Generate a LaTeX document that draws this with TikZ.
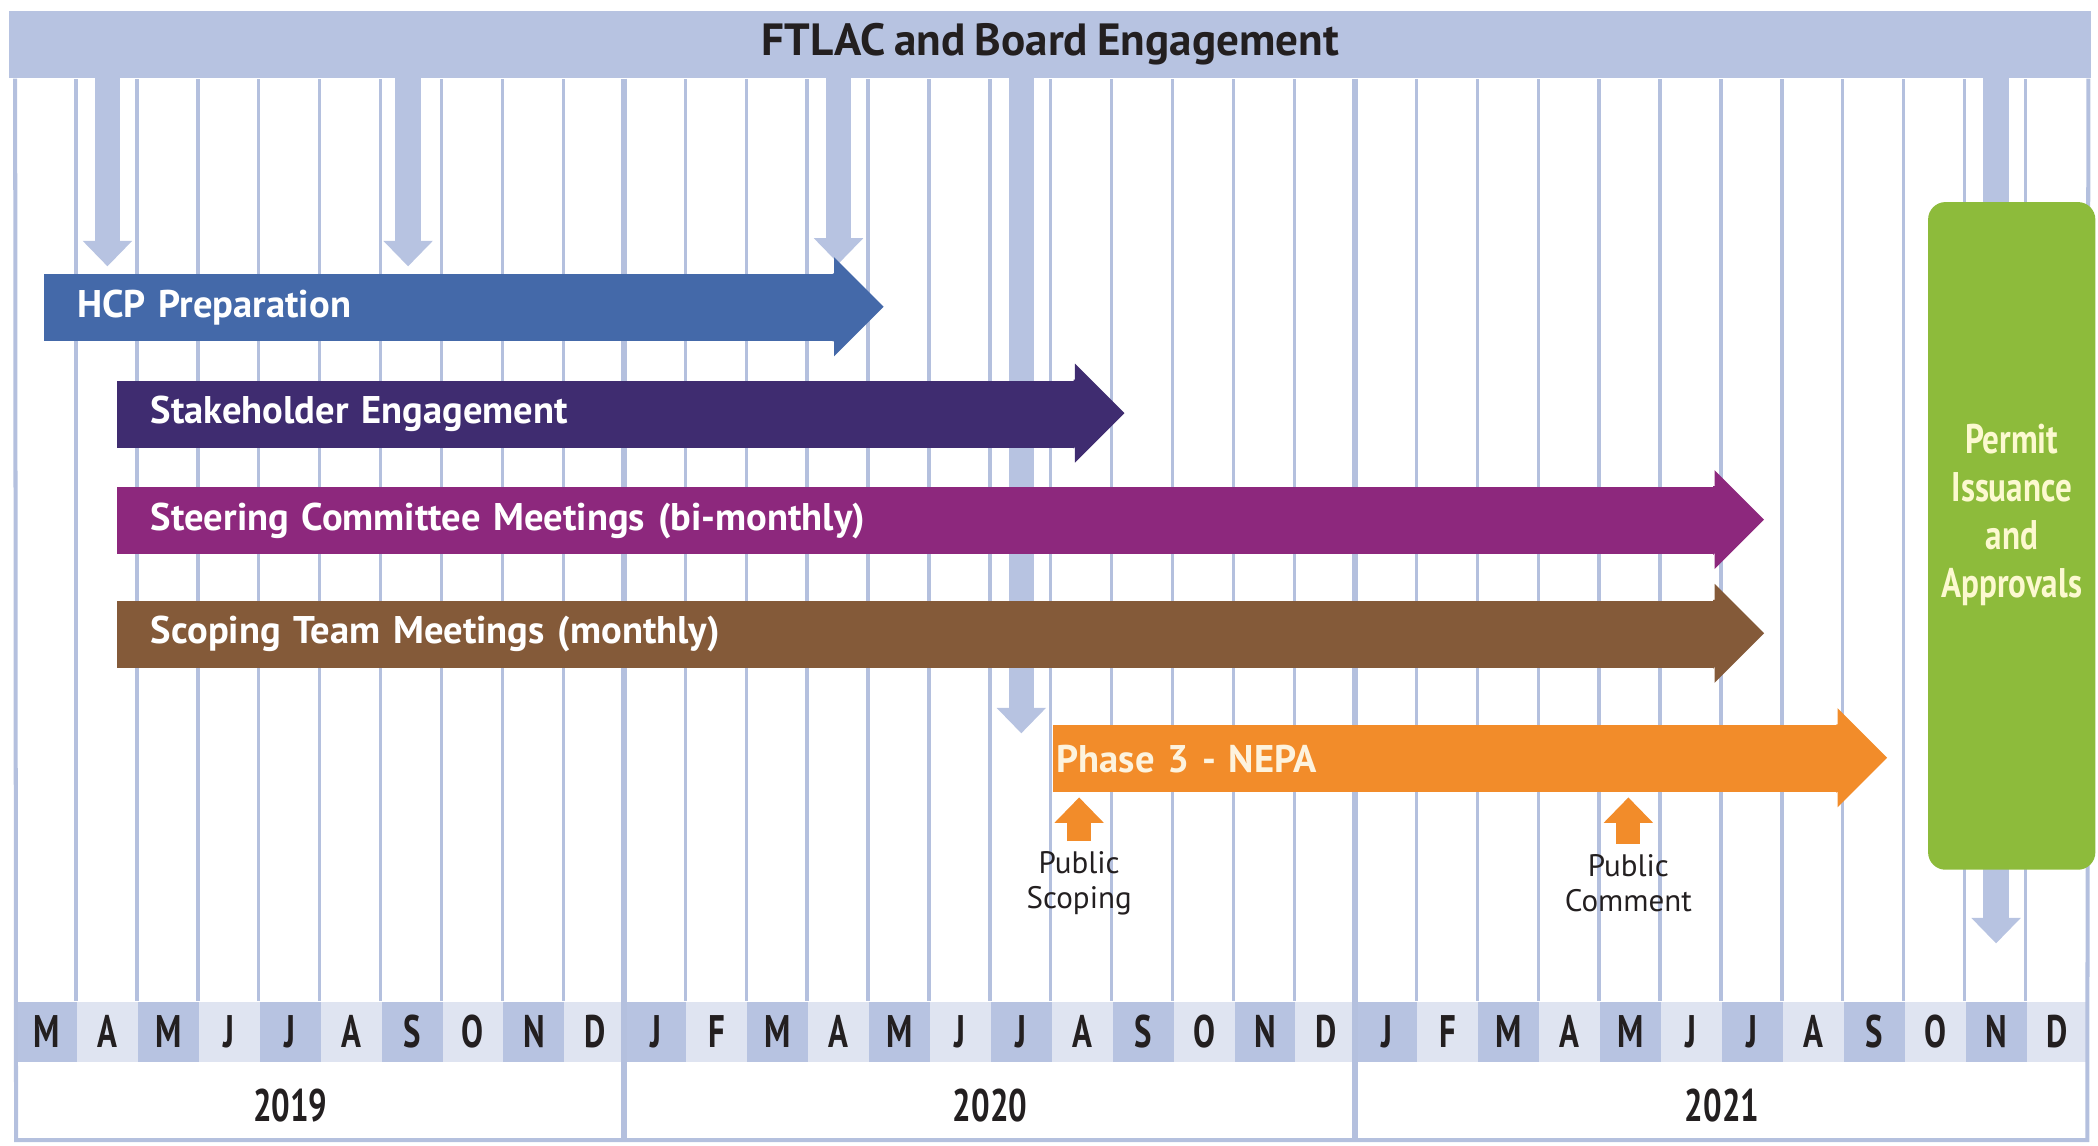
\documentclass[tikz,border=0pt]{standalone}
\usepackage{fontspec}
\setmainfont{PT Sans}[WordSpace=0.8]
\newfontfamily\narrowfont[FakeStretch=0.72]{PT Sans}
\newfontfamily\permitfont[FakeStretch=0.8]{PT Sans}
\usetikzlibrary{arrows.meta}

\definecolor{HeaderColor}{rgb}{0.718,0.765,0.882}
\definecolor{GridColor}{rgb}{0.706,0.753,0.871}
\definecolor{MonthDark}{rgb}{0.718,0.765,0.882}
\definecolor{MonthLight}{rgb}{0.875,0.894,0.945}
\definecolor{TextColor}{rgb}{0.137,0.122,0.125}
\definecolor{HcpColor}{rgb}{0.267,0.412,0.663}
\definecolor{StakeColor}{rgb}{0.247,0.173,0.439}
\definecolor{SteerColor}{rgb}{0.553,0.157,0.490}
\definecolor{ScopeColor}{rgb}{0.518,0.353,0.224}
\definecolor{NepaColor}{rgb}{0.949,0.549,0.165}
\definecolor{NepaText}{rgb}{0.992,0.953,0.871}
\definecolor{PermitColor}{rgb}{0.553,0.733,0.231}
\definecolor{PermitText}{rgb}{0.988,0.976,0.816}

\tikzstyle{grid-line}=[draw=GridColor, line width=0.025cm]
\tikzstyle{year-line}=[draw=GridColor, line width=0.045cm]
\tikzstyle{frame-line}=[draw=GridColor, line width=0.03cm]
\tikzstyle{header-band}=[rectangle,
                         fill=HeaderColor,
                         inner sep=0pt,
                         minimum width=15.56cm,
                         minimum height=0.50cm,
                         text=TextColor,
                         font=\bfseries\fontsize{9.6}{11}\selectfont]
\tikzstyle{month-base}=[rectangle,
                        inner sep=0pt,
                        minimum width=0.4553cm,
                        minimum height=0.45cm,
                        text=TextColor,
                        font=\narrowfont\bfseries\fontsize{9.7}{10}\selectfont]
\tikzstyle{month-dark}=[month-base, fill=MonthDark]
\tikzstyle{month-light}=[month-base, fill=MonthLight]
\tikzstyle{year-label}=[inner sep=0pt, text=TextColor,
                        font=\narrowfont\bfseries\fontsize{9.7}{10}\selectfont]
\tikzstyle{engage-arrow}=[draw=HeaderColor, line width=0.19cm, shorten <=-0.02cm,
                          -{Triangle[width=0.37cm, length=0.19cm, line width=0pt]}]
\tikzstyle{gantt-bar}=[rectangle,
                       anchor=west,
                       inner xsep=0.25cm,
                       inner ysep=0pt,
                       minimum height=0.50cm,
                       align=left,
                       text=white,
                       font=\bfseries\fontsize{8.2}{9.5}\selectfont]
\tikzstyle{permit-box}=[rectangle,
                        rounded corners=0.13cm,
                        fill=PermitColor,
                        minimum width=1.25cm,
                        minimum height=4.99cm]
\tikzstyle{permit-label}=[inner sep=0pt, align=center, text=PermitText,
                          font=\permitfont\bfseries\fontsize{8.8}{10.2}\selectfont]
\tikzstyle{public-arrow}=[draw=NepaColor, line width=0.18cm, shorten <=0.07cm,
                          -{Triangle[width=0.37cm, length=0.19cm, line width=0pt]}]
\tikzstyle{public-label}=[inner sep=0pt, align=center, text=TextColor,
                          font=\fontsize{6.6}{7.4}\selectfont]

\begin{document}
\begin{tikzpicture}
\useasboundingbox (0cm, 0cm) rectangle (15.68cm, -8.56cm);

% months
\node at (0.348cm,  -7.71cm) (month1)  [month-dark]  {M};
\node at (0.803cm,  -7.71cm) (month2)  [month-light] {A};
\node at (1.258cm,  -7.71cm) (month3)  [month-dark]  {M};
\node at (1.714cm,  -7.71cm) (month4)  [month-light] {J};
\node at (2.169cm,  -7.71cm) (month5)  [month-dark]  {J};
\node at (2.624cm,  -7.71cm) (month6)  [month-light] {A};
\node at (3.080cm,  -7.71cm) (month7)  [month-dark]  {S};
\node at (3.535cm,  -7.71cm) (month8)  [month-light] {O};
\node at (3.990cm,  -7.71cm) (month9)  [month-dark]  {N};
\node at (4.446cm,  -7.71cm) (month10) [month-light] {D};
\node at (4.901cm,  -7.71cm) (month11) [month-dark]  {J};
\node at (5.356cm,  -7.71cm) (month12) [month-light] {F};
\node at (5.812cm,  -7.71cm) (month13) [month-dark]  {M};
\node at (6.267cm,  -7.71cm) (month14) [month-light] {A};
\node at (6.722cm,  -7.71cm) (month15) [month-dark]  {M};
\node at (7.178cm,  -7.71cm) (month16) [month-light] {J};
\node at (7.633cm,  -7.71cm) (month17) [month-dark]  {J};
\node at (8.088cm,  -7.71cm) (month18) [month-light] {A};
\node at (8.543cm,  -7.71cm) (month19) [month-dark]  {S};
\node at (8.999cm,  -7.71cm) (month20) [month-light] {O};
\node at (9.454cm,  -7.71cm) (month21) [month-dark]  {N};
\node at (9.909cm,  -7.71cm) (month22) [month-light] {D};
\node at (10.365cm, -7.71cm) (month23) [month-dark]  {J};
\node at (10.820cm, -7.71cm) (month24) [month-light] {F};
\node at (11.275cm, -7.71cm) (month25) [month-dark]  {M};
\node at (11.731cm, -7.71cm) (month26) [month-light] {A};
\node at (12.186cm, -7.71cm) (month27) [month-dark]  {M};
\node at (12.641cm, -7.71cm) (month28) [month-light] {J};
\node at (13.097cm, -7.71cm) (month29) [month-dark]  {J};
\node at (13.552cm, -7.71cm) (month30) [month-light] {A};
\node at (14.007cm, -7.71cm) (month31) [month-dark]  {S};
\node at (14.463cm, -7.71cm) (month32) [month-light] {O};
\node at (14.918cm, -7.71cm) (month33) [month-dark]  {N};
\node at (15.373cm, -7.71cm) (month34) [month-light] {D};

\node at (2.17cm,  -8.26cm) (year2019) [year-label] {2019};
\node at (7.40cm,  -8.26cm) (year2020) [year-label] {2020};
\node at (12.87cm, -8.26cm) (year2021) [year-label] {2021};

\node at (7.85cm, -0.33cm) (header) [header-band] {FTLAC and Board Engagement};

% grid
\coordinate (frame_sw) at (0.12cm,  -8.52cm);
\coordinate (frame_se) at (15.60cm, -8.52cm);
\foreach \m in {2,...,34}
  \draw[grid-line] (month\m.north west) -- (month\m.north west |- header.south);
\draw[year-line] (header.south -| month11.west) -- (frame_sw -| month11.west);
\draw[year-line] (header.south -| month23.west) -- (frame_sw -| month23.west);
\draw[frame-line] (header.south -| month1.west) -- (frame_sw) -- (frame_se) -- (header.south -| month34.east);

% engagement arrows
\coordinate (engage1) at (0.803cm,  -1.99cm);
\coordinate (engage2) at (3.05cm,   -1.99cm);
\coordinate (engage3) at (6.267cm,  -1.97cm);
\coordinate (engage4) at (7.633cm,  -5.48cm);
\coordinate (engage5) at (14.918cm, -7.05cm);
\draw[engage-arrow] (header.south -| engage1) -- (engage1);
\draw[engage-arrow] (header.south -| engage2) -- (engage2);
\draw[engage-arrow] (header.south -| engage3) -- (engage3);
\draw[engage-arrow] (header.south -| engage4) -- (engage4);
\draw[engage-arrow] (header.south -| engage5) -- (engage5);

% bars
\node at (0.32cm, -2.30cm)  (hcp)   [gantt-bar, fill=HcpColor,   text width=5.40cm]  {HCP Preparation};
\node at (0.87cm, -3.095cm) (stake) [gantt-bar, fill=StakeColor, text width=6.65cm]  {Stakeholder Engagement};
\node at (0.87cm, -3.89cm)  (steer) [gantt-bar, fill=SteerColor, text width=11.43cm] {Steering Committee Meetings (bi-monthly)};
\node at (0.87cm, -4.74cm)  (scope) [gantt-bar, fill=ScopeColor, text width=11.43cm] {Scoping Team Meetings (monthly)};
\node at (7.86cm, -5.67cm)  (nepa)  [gantt-bar, fill=NepaColor,  text width=5.80cm, inner xsep=0.03cm, text=NepaText] {Phase 3 - NEPA};

\fill[HcpColor]   ([xshift=-0.01cm]hcp.north east) -- (hcp.north east) -- ++(0,0.12) -- ++(0.37,-0.37) -- ++(-0.37,-0.37) -- ++(0,0.12) -- ([xshift=-0.01cm]hcp.south east) -- cycle;
\fill[StakeColor] ([xshift=-0.01cm]stake.north east) -- (stake.north east) -- ++(0,0.12) -- ++(0.37,-0.37) -- ++(-0.37,-0.37) -- ++(0,0.12) -- ([xshift=-0.01cm]stake.south east) -- cycle;
\fill[SteerColor] ([xshift=-0.01cm]steer.north east) -- (steer.north east) -- ++(0,0.12) -- ++(0.37,-0.37) -- ++(-0.37,-0.37) -- ++(0,0.12) -- ([xshift=-0.01cm]steer.south east) -- cycle;
\fill[ScopeColor] ([xshift=-0.01cm]scope.north east) -- (scope.north east) -- ++(0,0.12) -- ++(0.37,-0.37) -- ++(-0.37,-0.37) -- ++(0,0.12) -- ([xshift=-0.01cm]scope.south east) -- cycle;
\fill[NepaColor]  ([xshift=-0.01cm]nepa.north east) -- (nepa.north east) -- ++(0,0.12) -- ++(0.37,-0.37) -- ++(-0.37,-0.37) -- ++(0,0.12) -- ([xshift=-0.01cm]nepa.south east) -- cycle;

% permit
\node at (15.035cm, -4.005cm) (permit) [permit-box] {};
\node at (15.035cm, -3.85cm) (permit_text) [permit-label] {Permit\\Issuance\\and\\Approvals};

% public involvement
\coordinate (scoping_tip) at (8.065cm, -5.96cm);
\coordinate (comment_tip) at (12.17cm, -5.96cm);
\node at (8.065cm, -6.60cm) (scoping) [public-label] {Public\\Scoping};
\node at (12.17cm, -6.60cm) (comment) [public-label] {Public\\Comment};
\draw[public-arrow] (scoping) -- (scoping_tip);
\draw[public-arrow] (comment) -- (comment_tip);
\end{tikzpicture}
\end{document}
